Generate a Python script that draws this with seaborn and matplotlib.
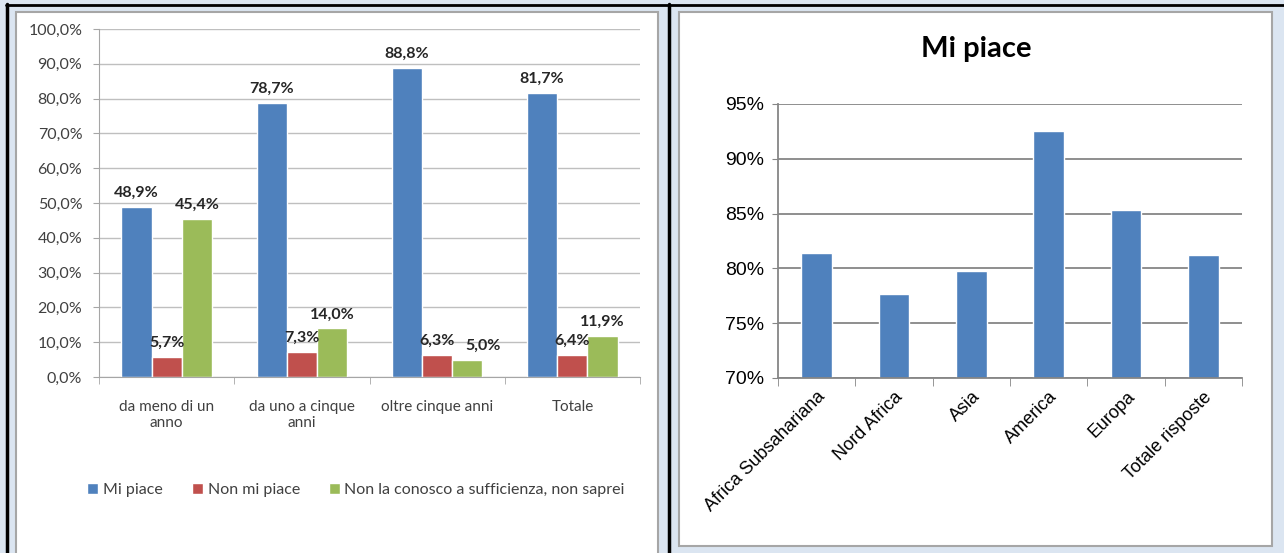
import matplotlib
matplotlib.use("Agg")
import matplotlib.pyplot as plt
import matplotlib.patches as mpatches
from matplotlib.lines import Line2D
from matplotlib.ticker import FuncFormatter, FixedLocator
import seaborn as sns
import pandas as pd

# data - left chart (by time in Italy)
periodi = ["da meno di un\nanno", "da uno a cinque\nanni", "oltre cinque anni", "Totale"]
serie = ["Mi piace", "Non mi piace", "Non la conosco a sufficienza, non saprei"]
mi_piace = [48.9, 78.7, 88.8, 81.7]
non_mi_piace = [5.7, 7.3, 6.3, 6.4]
non_so = [45.4, 14.0, 5.0, 11.9]

# data - right chart (by area of origin)
aree = ["Africa Subsahariana", "Nord Africa", "Asia", "America", "Europa", "Totale risposte"]
mi_piace_aree = [81.4, 77.7, 79.8, 92.5, 85.3, 81.2]

colori = ["#4F81BD", "#C0504D", "#9BBB59"]

sns.set_style("white")
plt.rcParams["font.family"] = ["Lato", "DejaVu Sans"]

W, H = 1284, 553
fig = plt.figure(figsize=(W / 100, H / 100), dpi=100)
fig.patch.set_facecolor("#DBE5F1")


def rect(x0, y0, x1, y1):
    return [x0 / W, 1 - y1 / H, (x1 - x0) / W, (y1 - y0) / H]


# panel backgrounds and frame lines
for (x0, y0, x1, y1) in [(16, 12, 658, 560), (679, 12, 1272, 546)]:
    fig.patches.append(mpatches.Rectangle((x0 / W, 1 - y1 / H), (x1 - x0) / W, (y1 - y0) / H,
                                          transform=fig.transFigure, facecolor="white",
                                          edgecolor="#A6A6A6", linewidth=1.5, zorder=-2))
fig.lines.append(Line2D([6.5 / W, 6.5 / W], [0, 1 - 4 / H], transform=fig.transFigure, color="black", lw=2.5, zorder=-1))
fig.lines.append(Line2D([669 / W, 669 / W], [0, 1 - 4 / H], transform=fig.transFigure, color="black", lw=2.5, zorder=-1))
fig.lines.append(Line2D([6 / W, 1284 / W], [1 - 4.5 / H, 1 - 4.5 / H], transform=fig.transFigure, color="black", lw=2, zorder=-1))

# ---------- left chart ----------
df = pd.DataFrame({
    "periodo": periodi * 3,
    "serie": [serie[0]] * 4 + [serie[1]] * 4 + [serie[2]] * 4,
    "valore": mi_piace + non_mi_piace + non_so,
})

ax1 = fig.add_axes(rect(99, 29, 640, 377))
ax1.set_facecolor("none")
sns.barplot(data=df, x="periodo", y="valore", hue="serie", palette=colori,
            width=0.67, gap=0, saturation=1, ax=ax1, legend=True)
ax1.set_ylim(0, 100)
ax1.set_xlim(-0.5, 3.5)
ax1.yaxis.set_major_locator(FixedLocator(range(0, 101, 10)))
ax1.yaxis.set_major_formatter(FuncFormatter(lambda v, p: f"{v:.1f}%".replace(".", ",")))
ax1.grid(axis="y", color="#BFBFBF", linewidth=1)
ax1.set_axisbelow(True)
for s in ["top", "right"]:
    ax1.spines[s].set_visible(False)
for s in ["left", "bottom"]:
    ax1.spines[s].set_color("#A6A6A6")
ax1.set_xlabel("")
ax1.set_ylabel("")
ax1.tick_params(axis="y", labelsize=11.5, colors="#404040", left=True, length=4, color="#A6A6A6", pad=8)
ax1.tick_params(axis="x", labelsize=11, colors="#404040", bottom=False, pad=13)
ax1.set_xticks([-0.5, 0.5, 1.5, 2.5, 3.5], minor=True)
ax1.tick_params(axis="x", which="minor", bottom=True, length=5, color="#A6A6A6")
for lbl in ax1.get_xticklabels():
    lbl.set_verticalalignment("top")
for i, cont in enumerate(ax1.containers):
    testi = ax1.bar_label(cont, labels=[f"{b.get_height():.1f}%".replace(".", ",") for b in cont],
                          padding=5, fontsize=11.5, fontweight="bold", color="#262626")
    if i == 2:
        # the "5,0%" label sits a little to the right, as in the original
        testi[2].xyann = (testi[2].xyann[0] + 11, testi[2].xyann[1])
ax1.legend(loc="center", bbox_to_anchor=(0.475, -0.325), ncol=3, frameon=False,
           fontsize=11.5, handlelength=0.7, handleheight=0.7, handletextpad=0.3,
           columnspacing=1.8, labelcolor="#404040")

# ---------- right chart ----------
df2 = pd.DataFrame({"area": aree, "valore": mi_piace_aree})
ax2 = fig.add_axes(rect(778, 104, 1242, 378))
ax2.set_facecolor("none")
sns.barplot(data=df2, x="area", y="valore", color=colori[0], saturation=1, width=0.4, ax=ax2)
ax2.set_ylim(70, 95)
ax2.set_xlim(-0.5, 5.5)
ax2.yaxis.set_major_locator(FixedLocator(range(70, 96, 5)))
ax2.yaxis.set_major_formatter(FuncFormatter(lambda v, p: f"{v:.0f}%"))
ax2.grid(axis="y", color="#868686", linewidth=1.3)
ax2.set_axisbelow(True)
for s in ["top", "right"]:
    ax2.spines[s].set_visible(False)
for s in ["left", "bottom"]:
    ax2.spines[s].set_color("#868686")
    ax2.spines[s].set_linewidth(1.3)
ax2.set_xlabel("")
ax2.set_ylabel("")
ax2.tick_params(axis="y", labelsize=14, colors="black", left=True, length=4, color="#868686", pad=6)
ax2.tick_params(axis="x", labelsize=13, colors="black", bottom=False, pad=4)
for lbl in ax2.get_xticklabels() + ax2.get_yticklabels():
    lbl.set_family(["Liberation Sans", "DejaVu Sans"])
ax2.set_xticks([-0.5, 0.5, 1.5, 2.5, 3.5, 4.5, 5.5], minor=True)
ax2.tick_params(axis="x", which="minor", bottom=True, length=6, color="#868686")
plt.setp(ax2.get_xticklabels(), rotation=45, ha="right", rotation_mode="anchor")
fig.text(976 / W, 1 - 49 / H, "Mi piace", fontsize=21, fontweight="bold",
         ha="center", va="center", color="black")

fig.savefig("out.png", dpi=100, facecolor=fig.get_facecolor())
